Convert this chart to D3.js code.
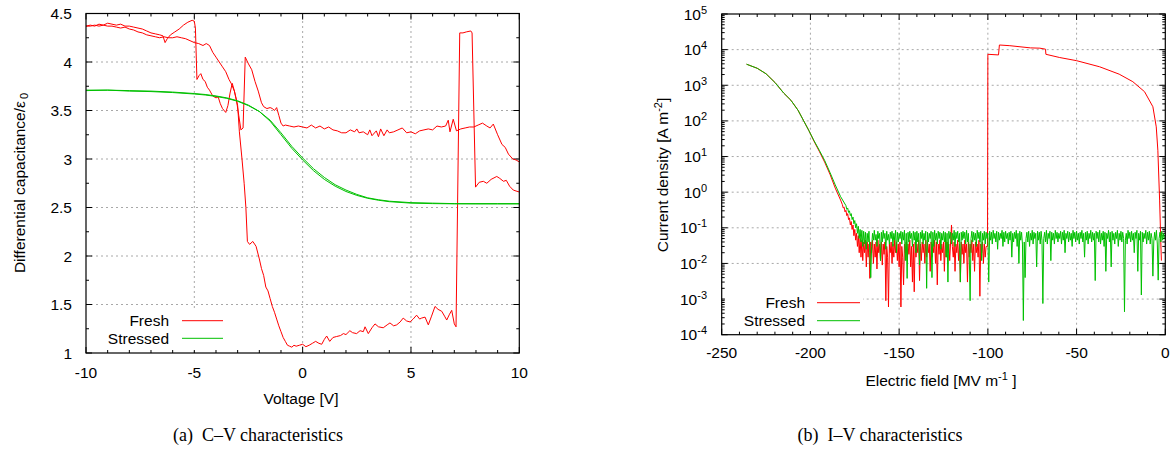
<!DOCTYPE html>
<html><head><meta charset="utf-8">
<script src="https://cdn.jsdelivr.net/npm/d3@7"></script>
<style>body{margin:0;background:#fff}svg{display:block}text{font-family:"Liberation Sans",Arial,sans-serif;fill:#000}</style>
</head><body>
<script>
// ---------- DATA: (a) C–V characteristics ----------
const cvXTicks = [-10, -5, 0, 5, 10];
const cvYTicks = [1, 1.5, 2, 2.5, 3, 3.5, 4, 4.5];
const cvSeriesNames = ["Fresh", "Stressed"];
const freshSweepA = [[-10,4.37],[-9.8,4.38],[-9.6,4.37],[-9.4,4.39],[-9.2,4.38],[-9,4.40],[-8.8,4.39],[-8.6,4.38],[-8.4,4.39],[-8.2,4.37],[-8,4.37],[-7.8,4.36],[-7.6,4.35],[-7.4,4.34],[-7.2,4.32],[-7,4.30],[-6.8,4.29],[-6.6,4.28],[-6.45,4.27],[-6.35,4.20],[-6.25,4.24],[-6.1,4.28],[-5.9,4.31],[-5.7,4.34],[-5.5,4.38],[-5.3,4.41],[-5.1,4.43],[-5.0,4.42],[-4.95,4.35],[-4.88,3.82],[-4.78,3.86],[-4.7,3.88],[-4.6,3.82],[-4.5,3.80],[-4.4,3.74],[-4.3,3.71],[-4.15,3.65],[-4.0,3.63],[-3.9,3.64],[-3.8,3.57],[-3.7,3.52],[-3.55,3.48],[-3.45,3.55],[-3.35,3.68],[-3.25,3.78],[-3.15,3.70],[-3.05,3.60],[-2.95,3.45],[-2.85,3.30],[-2.75,3.32],[-2.65,4.05],[-2.5,3.98],[-2.35,3.92],[-2.2,3.80],[-2.05,3.70],[-1.9,3.58],[-1.8,3.54],[-1.65,3.52],[-1.5,3.53],[-1.4,3.52],[-1.3,3.50],[-1.2,3.53],[-1.1,3.45],[-1.0,3.37],[-0.9,3.34],[-0.8,3.35],[-0.6,3.34],[-0.4,3.33],[-0.2,3.34],[0,3.33],[0.2,3.32],[0.4,3.35],[0.6,3.32],[0.8,3.34],[1.0,3.31],[1.2,3.33],[1.4,3.30],[1.6,3.29],[1.8,3.27],[2.0,3.27],[2.2,3.30],[2.4,3.28],[2.5,3.31],[2.6,3.27],[2.8,3.28],[3.0,3.25],[3.1,3.30],[3.2,3.24],[3.4,3.29],[3.5,3.23],[3.6,3.31],[3.75,3.24],[3.9,3.30],[4.0,3.27],[4.2,3.28],[4.4,3.30],[4.6,3.32],[4.8,3.27],[5.0,3.28],[5.2,3.26],[5.4,3.29],[5.6,3.30],[5.8,3.31],[6.0,3.30],[6.2,3.34],[6.4,3.33],[6.6,3.34],[6.72,3.40],[6.8,3.28],[6.95,3.41],[7.1,3.29],[7.3,3.31],[7.5,3.32],[7.7,3.33],[7.9,3.33],[8.1,3.35],[8.3,3.37],[8.5,3.34],[8.65,3.32],[8.8,3.36],[9.0,3.25],[9.2,3.15],[9.35,3.12],[9.5,3.05],[9.7,3.00],[9.85,2.99],[10,2.97]];
const freshSweepB = [[-10,4.37],[-9.8,4.37],[-9.6,4.38],[-9.4,4.37],[-9.2,4.38],[-9,4.37],[-8.8,4.37],[-8.6,4.36],[-8.4,4.35],[-8.2,4.36],[-8,4.34],[-7.8,4.33],[-7.6,4.31],[-7.4,4.30],[-7.2,4.28],[-7,4.27],[-6.8,4.26],[-6.6,4.25],[-6.4,4.26],[-6.2,4.25],[-6,4.25],[-5.8,4.26],[-5.6,4.25],[-5.4,4.24],[-5.2,4.22],[-5,4.20],[-4.8,4.19],[-4.6,4.17],[-4.45,4.19],[-4.3,4.17],[-4.15,4.10],[-4.0,4.05],[-3.85,4.00],[-3.7,3.95],[-3.55,3.90],[-3.4,3.82],[-3.3,3.78],[-3.15,3.70],[-3.0,3.55],[-2.92,3.28],[-2.8,3.00],[-2.7,2.75],[-2.62,2.50],[-2.55,2.15],[-2.45,2.12],[-2.3,2.15],[-2.15,2.10],[-2.0,1.97],[-1.9,1.87],[-1.8,1.80],[-1.7,1.68],[-1.6,1.64],[-1.5,1.56],[-1.4,1.48],[-1.3,1.42],[-1.2,1.35],[-1.1,1.28],[-1.0,1.22],[-0.9,1.16],[-0.8,1.12],[-0.7,1.08],[-0.6,1.07],[-0.5,1.06],[-0.4,1.08],[-0.3,1.07],[-0.15,1.08],[0,1.09],[0.15,1.065],[0.3,1.08],[0.45,1.10],[0.6,1.12],[0.75,1.10],[0.88,1.09],[1.0,1.14],[1.11,1.175],[1.25,1.12],[1.4,1.16],[1.57,1.17],[1.75,1.18],[1.88,1.20],[2.0,1.19],[2.18,1.23],[2.3,1.21],[2.49,1.20],[2.65,1.23],[2.8,1.22],[2.88,1.27],[3.03,1.20],[3.2,1.26],[3.34,1.30],[3.5,1.27],[3.72,1.26],[3.9,1.29],[4.03,1.31],[4.2,1.28],[4.34,1.29],[4.5,1.32],[4.64,1.36],[4.8,1.33],[4.96,1.32],[5.1,1.35],[5.26,1.39],[5.4,1.35],[5.49,1.36],[5.65,1.37],[5.8,1.29],[5.95,1.38],[6.11,1.48],[6.25,1.45],[6.42,1.43],[6.55,1.38],[6.65,1.34],[6.78,1.40],[6.88,1.44],[7.0,1.30],[7.08,1.27],[7.25,4.30],[7.4,4.30],[7.55,4.31],[7.76,4.32],[7.82,4.30],[7.98,2.71],[8.15,2.76],[8.34,2.77],[8.5,2.75],[8.7,2.79],[8.96,2.82],[9.1,2.80],[9.27,2.77],[9.4,2.78],[9.55,2.72],[9.72,2.68],[9.85,2.67],[10,2.66]];
const stressedSweepA = [[-10,3.71],[-9,3.71],[-8,3.705],[-7,3.70],[-6,3.69],[-5,3.675],[-4.5,3.665],[-4,3.65],[-3.5,3.63],[-3,3.60],[-2.5,3.555],[-2,3.49],[-1.5,3.39],[-1,3.25],[-0.5,3.11],[0,2.99],[0.5,2.88],[1,2.79],[1.5,2.72],[2,2.665],[2.5,2.625],[3,2.595],[3.5,2.575],[4,2.56],[5,2.545],[6,2.54],[7,2.538],[8,2.537],[9,2.537],[10,2.537]];
const stressedSweepB = [[-10,3.705],[-9,3.71],[-8,3.70],[-7,3.695],[-6,3.685],[-5,3.67],[-4.5,3.66],[-4,3.645],[-3.5,3.625],[-3,3.595],[-2.5,3.55],[-2,3.49],[-1.5,3.40],[-1,3.27],[-0.5,3.13],[0,3.01],[0.5,2.90],[1,2.81],[1.5,2.735],[2,2.68],[2.5,2.635],[3,2.60],[3.5,2.58],[4,2.565],[5,2.55],[6,2.545],[7,2.54],[8,2.54],[9,2.54],[10,2.54]];

// ---------- DATA: (b) I–V characteristics ----------
const ivXTicks = [-250, -200, -150, -100, -50, 0];
const ivYExponents = [-4, -3, -2, -1, 0, 1, 2, 3, 4, 5];
const freshIVSmooth = [[-236,3900],[-230,3000],[-225,2100],[-220,1200],[-215,600],[-211,380],[-207,200],[-204,105],[-201,55],[-198,27],[-195,14],[-192,7],[-189,3.2],[-186,1.3],[-183,0.6]];
const freshIVNoiseStart = -182, freshIVNoiseStep = 0.5;
const freshIVNoise = [
0.45,0.36,0.38,0.28,0.31,0.22,0.25,0.17,0.19,0.12,
0.15,0.09,0.12,0.06,0.09,0.045,0.07,0.03,0.06,0.02,
0.05,0.015,0.045,0.012,0.04,0.02,0.045,0.008,0.04,0.015,0.035,0.0038,0.04,0.02,0.045,0.01,0.035,0.015,0.04,0.007,
0.045,0.02,0.035,0.012,0.04,0.009,0.035,0.018,0.04,0.0009,0.03,0.015,0.0006,0.035,0.02,0.04,0.01,0.035,0.015,0.045,
0.02,0.04,0.012,0.035,0.008,0.04,0.0006,0.03,0.015,0.0025,0.035,0.02,0.04,0.012,0.035,0.018,0.045,0.008,0.03,0.003,
0.035,0.0016,0.04,0.015,0.035,0.02,0.045,0.0033,0.035,0.012,0.04,0.02,0.035,0.01,0.045,0.015,0.04,0.02,0.035,0.006,
0.04,0.015,0.035,0.02,0.045,0.01,0.04,0.0025,0.035,0.018,0.045,0.012,0.035,0.02,0.04,0.006,0.045,0.015,0.04,0.02,
0.035,0.012,0.04,0.12,0.03,0.015,0.04,0.006,0.035,0.02,0.045,0.012,0.035,0.003,0.04,0.018,0.035,0.01,0.045,0.02,
0.035,0.003,0.04,0.015,0.035,0.02,0.045,0.012,0.035,0.006,0.04,0.02,0.035,0.015,0.045,0.0012,0.035,0.02,0.04,0.01,
0.035,0.015,0.03];
const freshIVHigh = [[-100.2,0.03],[-100,7400],[-94,7100],[-93.5,13500],[-87.6,12900],[-76,11200],[-70.7,11000],[-67.5,10300],[-67.3,7400],[-59.5,6000],[-50,4900],[-37,3300],[-26,2050],[-18.3,1260],[-11.7,660],[-7,250],[-5.1,68],[-4.2,15],[-3.2,0.6],[-2.6,0.05],[-2.2,0.012]];
const stressedIVSmooth = [[-236,3900],[-230,3000],[-225,2100],[-220,1200],[-215,600],[-211,380],[-207,200],[-204,105],[-201,55],[-198,28],[-195,15],[-192,7.8],[-189,3.6],[-186,1.6],[-183,0.75]];
const stressedIVNoiseStart = -180, stressedIVNoiseStep = 0.5;
const stressedIVNoise = [
0.42,0.33,0.36,0.27,0.30,0.22,0.25,0.17,0.20,0.13,0.16,0.10,0.13,0.07,0.11,0.05,0.09,0.04,0.085,0.03,
0.08,0.035,0.075,0.025,0.07,0.04,0.08,0.02,0.004,0.03,0.07,0.045,0.085,0.045,0.065,0.03,0.08,0.05,0.07,0.012,
0.075,0.04,0.085,0.05,0.07,0.025,0.08,0.045,0.065,0.035,0.075,0.05,0.08,0.03,0.07,0.045,0.085,0.02,0.075,0.04,
0.07,0.05,0.08,0.035,0.075,0.045,0.085,0.012,0.07,0.0038,0.075,0.04,0.08,0.05,0.07,0.03,0.08,0.045,0.075,0.02,
0.08,0.04,0.07,0.009,0.075,0.05,0.085,0.035,0.07,0.045,0.08,0.002,0.075,0.04,0.07,0.05,0.08,0.004,0.075,0.03,
0.085,0.045,0.07,0.035,0.08,0.05,0.075,0.025,0.07,0.045,0.08,0.04,0.075,0.015,0.07,0.003,0.08,0.05,0.075,0.035,
0.07,0.045,0.085,0.03,0.075,0.05,0.08,0.04,0.07,0.003,0.075,0.045,0.08,0.05,0.075,0.035,0.085,0.04,0.07,0.02,
0.0009,0.05,0.08,0.04,0.075,0.045,0.07,0.03,0.085,0.05,0.075,0.04,0.08,0.012,0.07,0.045,0.08,0.035,0.075,0.05,
0.07,0.003,0.08,0.045,0.075,0.035,0.085,0.05,0.07,0.04,0.08,0.025,0.075,0.045,0.07,0.05,0.085,0.03,0.075,0.04,
0.08,0.05,0.07,0.035,0.075,0.045,0.08,0.015,0.07,0.04,0.075,0.05,0.085,0.03,0.07,0.01,0.08,0.045,0.075,0.035,
0.00025,0.04,0.004,0.05,0.075,0.04,0.08,0.03,0.07,0.045,0.085,0.035,0.075,0.05,0.07,0.008,0.08,0.045,0.075,0.035,
0.08,0.045,0.00075,0.05,0.075,0.04,0.085,0.035,0.07,0.05,0.08,0.012,0.075,0.045,0.07,0.035,0.085,0.05,0.075,0.04,
0.07,0.05,0.08,0.035,0.075,0.045,0.085,0.02,0.07,0.05,0.08,0.04,0.075,0.045,0.07,0.03,0.085,0.05,0.075,0.04,
0.08,0.045,0.07,0.035,0.075,0.05,0.085,0.04,0.07,0.015,0.075,0.045,0.08,0.035,0.07,0.05,0.085,0.04,0.075,0.045,
0.07,0.0033,0.08,0.05,0.075,0.04,0.085,0.035,0.07,0.045,0.08,0.03,0.075,0.006,0.07,0.05,0.085,0.04,0.075,0.008,
0.08,0.045,0.07,0.035,0.075,0.05,0.085,0.03,0.07,0.045,0.08,0.04,0.075,0.05,0.00044,0.045,0.07,0.035,0.085,0.05,
0.075,0.04,0.08,0.045,0.07,0.02,0.075,0.05,0.085,0.006,0.07,0.045,0.08,0.0013,0.075,0.04,0.07,0.05,0.085,0.035,
0.075,0.045,0.08,0.035,0.07,0.05,0.0044,0.04,0.075,0.045,0.085,0.035,0.0034,0.05,0.075,0.04,0.08,0.045,0.07,0.05];

// ---------- DRAWING ----------
const RED = "#ff0000", GREEN = "#00c000", GRID = "#a8a8a8";
const FS = 15.5, SUP = 11;
const svg = d3.select("body").append("svg").attr("width", 1176).attr("height", 452);
svg.append("rect").attr("width", 1176).attr("height", 452).attr("fill", "#fff");

function drawFrame(g, x, y, xMaj, xMin, yMaj, yMin) {
  const [x0, x1] = x.range(), [y0, y1] = y.range();
  g.selectAll(null).data(xMaj.filter(v => x(v) > x0 + 1 && x(v) < x1 - 1)).join("line")
    .attr("x1", d => x(d)).attr("x2", d => x(d)).attr("y1", y0).attr("y2", y1)
    .attr("stroke", GRID).attr("stroke-width", 1).attr("stroke-dasharray", "2,3");
  g.selectAll(null).data(yMaj.filter(v => y(v) < y0 - 1 && y(v) > y1 + 1)).join("line")
    .attr("x1", x0).attr("x2", x1).attr("y1", d => y(d)).attr("y2", d => y(d))
    .attr("stroke", GRID).attr("stroke-width", 1).attr("stroke-dasharray", "2,3");
  const tick = (vals, len) => vals.forEach(v => {
    const px = x(v);
    g.append("line").attr("x1", px).attr("x2", px).attr("y1", y0).attr("y2", y0 - len).attr("stroke", "#000");
    g.append("line").attr("x1", px).attr("x2", px).attr("y1", y1).attr("y2", y1 + len).attr("stroke", "#000");
  });
  const ytick = (vals, len) => vals.forEach(v => {
    const py = y(v);
    g.append("line").attr("y1", py).attr("y2", py).attr("x1", x0).attr("x2", x0 + len).attr("stroke", "#000");
    g.append("line").attr("y1", py).attr("y2", py).attr("x1", x1).attr("x2", x1 - len).attr("stroke", "#000");
  });
  tick(xMaj, 6); tick(xMin, 3); ytick(yMaj, 6); ytick(yMin, 3);
}
function drawBorder(g, x, y) {
  const [x0, x1] = x.range(), [y0, y1] = y.range();
  g.append("rect").attr("x", x0).attr("y", y1).attr("width", x1 - x0).attr("height", y0 - y1)
    .attr("fill", "none").attr("stroke", "#000").attr("stroke-width", 1.2);
}

// ----- (a) -----
const gA = svg.append("g");
const xA = d3.scaleLinear().domain([-10, 10]).range([86, 519.3]);
const yA = d3.scaleLinear().domain([1, 4.5]).range([353, 13.5]);
const xAMinor = d3.range(-10, 10.001, 1).filter(v => !cvXTicks.includes(v));
const yAMinor = d3.range(1.25, 4.5, 0.5);
drawFrame(gA, xA, yA, cvXTicks, xAMinor, cvYTicks, yAMinor);
gA.append("rect").attr("x", 90).attr("y", 309).attr("width", 138).attr("height", 41).attr("fill", "#fff");
const lineA = d3.line().x(d => xA(d[0])).y(d => yA(d[1]));
[[freshSweepA, RED], [freshSweepB, RED], [stressedSweepA, GREEN], [stressedSweepB, GREEN]].forEach(([d, c]) => {
  gA.append("path").attr("d", lineA(d)).attr("fill", "none").attr("stroke", c).attr("stroke-width", 1).attr("stroke-linejoin", "round");
});
drawBorder(gA, xA, yA);
gA.selectAll(null).data(cvXTicks).join("text").attr("x", d => xA(d)).attr("y", 377.5)
  .attr("text-anchor", "middle").attr("font-size", FS).text(d => d);
gA.selectAll(null).data(cvYTicks).join("text").attr("x", 72).attr("y", d => yA(d) + 5.5)
  .attr("text-anchor", "end").attr("font-size", FS).text(d => d);
gA.append("text").attr("x", 301).attr("y", 403.5).attr("text-anchor", "middle").attr("font-size", FS).text("Voltage [V]");
const ylA = gA.append("text").attr("transform", "translate(25,183) rotate(-90)").attr("text-anchor", "middle").attr("font-size", FS);
ylA.append("tspan").text("Differential capacitance/ε");
ylA.append("tspan").attr("dy", 3).attr("dx", 2).attr("font-size", SUP).text("0");
[[cvSeriesNames[0], RED, 320.7], [cvSeriesNames[1], GREEN, 338.3]].forEach(([n, c, yy]) => {
  gA.append("text").attr("x", 169).attr("y", yy + 5.5).attr("text-anchor", "end").attr("font-size", FS).text(n);
  gA.append("line").attr("x1", 182).attr("x2", 223).attr("y1", yy).attr("y2", yy).attr("stroke", c).attr("stroke-width", 1);
});

// ----- (b) -----
const gB = svg.append("g");
const xB = d3.scaleLinear().domain([-250, 0]).range([721.7, 1165.3]);
const yB = d3.scaleLog().domain([1e-4, 1e5]).range([334.7, 14]);
const yBMaj = ivYExponents.map(e => Math.pow(10, e));
const yBMin = [];
ivYExponents.slice(0, -1).forEach(e => { for (let k = 2; k <= 9; k++) yBMin.push(k * Math.pow(10, e)); });
const xBMinor = d3.range(-250, 0.001, 10).filter(v => !ivXTicks.includes(v));
drawFrame(gB, xB, yB, ivXTicks, xBMinor, yBMaj, yBMin);
gB.append("rect").attr("x", 725).attr("y", 293).attr("width", 138).attr("height", 38).attr("fill", "#fff");
const lineB = d3.line().x(d => xB(d[0])).y(d => yB(d[1]));
const freshIV = freshIVSmooth.concat(freshIVNoise.map((v, i) => [freshIVNoiseStart + i * freshIVNoiseStep, v]), freshIVHigh);
const stressedIV = stressedIVSmooth.concat(stressedIVNoise.map((v, i) => [stressedIVNoiseStart + i * stressedIVNoiseStep, v]));
gB.append("path").attr("d", lineB(freshIV)).attr("fill", "none").attr("stroke", RED).attr("stroke-width", 1);
gB.append("path").attr("d", lineB(stressedIV)).attr("fill", "none").attr("stroke", GREEN).attr("stroke-width", 1);
drawBorder(gB, xB, yB);
gB.selectAll(null).data(ivXTicks).join("text").attr("x", d => xB(d)).attr("y", 358)
  .attr("text-anchor", "middle").attr("font-size", FS).text(d => d);
ivYExponents.forEach(e => {
  const t = gB.append("text").attr("x", 707).attr("y", yB(Math.pow(10, e)) + 5.5).attr("text-anchor", "end").attr("font-size", FS);
  t.append("tspan").text("10");
  t.append("tspan").attr("dy", -6).attr("font-size", SUP).text(e);
});
const xlB = gB.append("text").attr("x", 941).attr("y", 386).attr("text-anchor", "middle").attr("font-size", FS);
xlB.append("tspan").text("Electric field [MV m");
xlB.append("tspan").attr("dy", -6).attr("font-size", SUP).text("-1");
xlB.append("tspan").attr("dy", 6).text(" ]");
const ylB = gB.append("text").attr("transform", "translate(668,175) rotate(-90)").attr("text-anchor", "middle").attr("font-size", FS);
ylB.append("tspan").text("Current density [A m");
ylB.append("tspan").attr("dy", -6).attr("font-size", SUP).text("-2");
ylB.append("tspan").attr("dy", 6).text("]");
[[cvSeriesNames[0], RED, 302.7], [cvSeriesNames[1], GREEN, 320.7]].forEach(([n, c, yy]) => {
  gB.append("text").attr("x", 805).attr("y", yy + 5.5).attr("text-anchor", "end").attr("font-size", FS).text(n);
  gB.append("line").attr("x1", 817).attr("x2", 860).attr("y1", yy).attr("y2", yy).attr("stroke", c).attr("stroke-width", 1);
});

// captions
svg.append("text").attr("x", 258).attr("y", 441).attr("text-anchor", "middle").style("white-space", "pre")
  .style("font-family", "'Liberation Serif','Times New Roman',serif").attr("font-size", 18).text("(a)  C–V characteristics");
svg.append("text").attr("x", 880).attr("y", 441).attr("text-anchor", "middle").style("white-space", "pre")
  .style("font-family", "'Liberation Serif','Times New Roman',serif").attr("font-size", 18).text("(b)  I–V characteristics");
</script>
</body></html>
